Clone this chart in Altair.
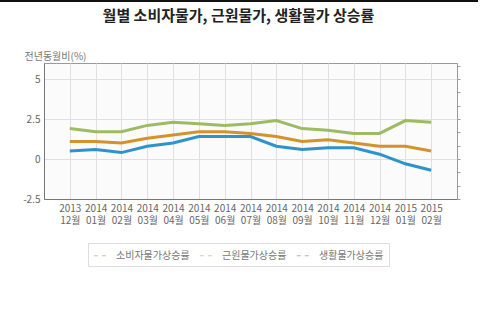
import altair as alt
import pandas as pd

months = ["2013 12월", "2014 01월", "2014 02월", "2014 03월", "2014 04월", "2014 05월",
          "2014 06월", "2014 07월", "2014 08월", "2014 09월", "2014 10월", "2014 11월",
          "2014 12월", "2015 01월", "2015 02월"]
series_names = ["소비자물가상승률", "근원물가상승률", "생활물가상승률"]
cpi = [1.1, 1.1, 1.0, 1.3, 1.5, 1.7, 1.7, 1.6, 1.4, 1.1, 1.2, 1.0, 0.8, 0.8, 0.5]
core = [1.9, 1.7, 1.7, 2.1, 2.3, 2.2, 2.1, 2.2, 2.4, 1.9, 1.8, 1.6, 1.6, 2.4, 2.3]
living = [0.5, 0.6, 0.4, 0.8, 1.0, 1.4, 1.4, 1.4, 0.8, 0.6, 0.7, 0.7, 0.3, -0.3, -0.7]
colors = ["#D4912C", "#9DBB61", "#2F93CB"]
y_ticks = [-2.5, 0, 2.5, 5]
minor_ticks = [-2.5 + i * 2.5 / 3 for i in range(11)]

rows = []
for name, vals in zip(series_names, [cpi, core, living]):
    for m, v in zip(months, vals):
        rows.append({"month": m, "series": name, "value": v})
df = pd.DataFrame(rows)

W, H = 413, 136
font = "Noto Sans CJK KR"

lines = alt.Chart(df).mark_line(strokeWidth=3, strokeCap="butt").encode(
    x=alt.X("month:O", sort=months,
            scale=alt.Scale(type="point", padding=1),
            axis=alt.Axis(title=None, labelAngle=0, grid=True, gridColor="#e0e0e0",
                          ticks=False, labelExpr="split(datum.label, ' ')",
                          labelLineHeight=12, labelPadding=4, labelFontSize=10,
                          labelColor="#666", domainColor="#777", labelFont=font)),
    y=alt.Y("value:Q", scale=alt.Scale(domain=[-2.5, 6], nice=False, zero=False),
            axis=alt.Axis(title="전년동월비(%)", values=y_ticks, grid=True,
                          gridColor="#e0e0e0", tickSize=0, labelPadding=4,
                          labelFontSize=10, labelColor="#666", domainColor="#777",
                          labelFont=font, titleFont=font, titleFontSize=10,
                          titleFontWeight="normal", titleColor="#777", titleAngle=0,
                          titleAlign="left", titleBaseline="alphabetic",
                          titleX=-20, titleY=-4, labelExpr="toString(datum.value)")),
    color=alt.Color("series:N", sort=series_names,
                    scale=alt.Scale(domain=series_names, range=colors),
                    legend=alt.Legend(title=None, orient="none", legendX=44, legendY=180,
                                      direction="horizontal", columns=3,
                                      symbolType="stroke", symbolSize=180,
                                      symbolStrokeWidth=1.2, symbolDash=[4, 4],
                                      symbolOpacity=0.6, labelFont=font,
                                      labelFontSize=10, labelColor="#777",
                                      columnPadding=7, labelOffset=8,
                                      padding=5, strokeColor="#ddd",
                                      fillColor="#fff", cornerRadius=0)),
)

minor = alt.Chart(pd.DataFrame({"t": minor_ticks})).mark_tick(opacity=0).encode(
    y=alt.Y("t:Q", scale=alt.Scale(domain=[-2.5, 6], nice=False, zero=False),
            axis=alt.Axis(orient="right", values=minor_ticks, labels=False, title=None,
                          grid=False, tickSize=3, tickColor="#999", domain=False)),
)

top_rule = alt.Chart(pd.DataFrame({"a": [0]})).mark_rule(color="#111", strokeWidth=2).encode(
    x=alt.value(-44), x2=alt.value(434), y=alt.value(-62)
)

chart = alt.layer(lines, minor, top_rule).resolve_scale(y="independent").properties(
    width=W, height=H,
    title=alt.TitleParams("월별 소비자물가, 근원물가, 생활물가 상승률", font=font,
                          fontSize=15, fontWeight="bold", color="#222",
                          anchor="middle", dx=-12, offset=-24),
    autosize=alt.AutoSizeParams(type="none"),
    padding={"left": 44, "top": 63, "right": 43, "bottom": 126},
).configure_view(stroke="#999", fill="#fbfbfb")

chart.save("out.html", embed_options={"renderer": "svg", "actions": False})
